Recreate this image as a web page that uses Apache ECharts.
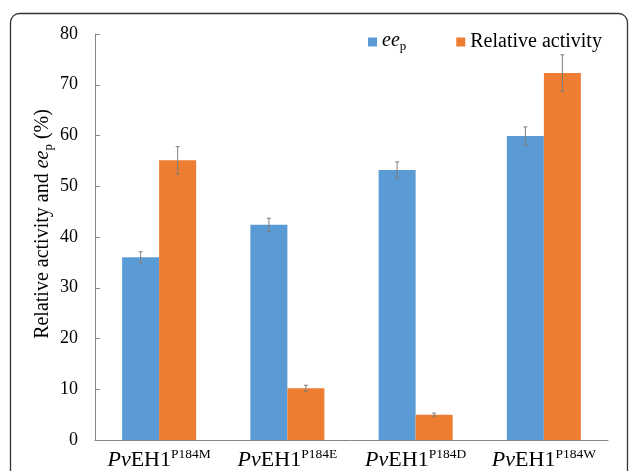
<!DOCTYPE html>
<html><head><meta charset="utf-8">
<script src="https://cdn.jsdelivr.net/npm/echarts@6.0.0/dist/echarts.min.js"></script>
<style>html,body{margin:0;padding:0;background:#fff}#c{width:630px;height:471px}</style>
</head><body><div id="c"></div>
<script>
const categories = ['P184M', 'P184E', 'P184D', 'P184W'];
const eeP = [36.0, 42.4, 53.2, 59.9];
const eePErr = [1.1, 1.3, 1.6, 1.8];
const relActivity = [55.1, 10.2, 5.0, 72.3];
const relActivityErr = [2.7, 0.6, 0.3, 3.6];
const yMin = 0, yMax = 80, yStep = 10;

const FONT = 'Liberation Serif';
const BAR_W = 37;
const BLUE = '#5B9BD5', ORANGE = '#ED7D31', ERR = '#7F7F7F';

function errRender(offset) {
  return function (params, api) {
    const idx = api.value(0);
    const lo = api.coord([idx, api.value(1)]);
    const hi = api.coord([idx, api.value(2)]);
    const cx = lo[0] + offset, cap = 2;
    const st = { stroke: ERR, lineWidth: 1 };
    return { type: 'group', children: [
      { type: 'line', shape: { x1: cx, y1: lo[1], x2: cx, y2: hi[1] }, style: st },
      { type: 'line', shape: { x1: cx - cap, y1: lo[1], x2: cx + cap, y2: lo[1] }, style: st },
      { type: 'line', shape: { x1: cx - cap, y1: hi[1], x2: cx + cap, y2: hi[1] }, style: st }
    ]};
  };
}

const chart = echarts.init(document.getElementById('c'), null, { renderer: 'canvas' });
chart.setOption({
  animation: false,
  backgroundColor: '#fff',
  grid: { left: 95, right: 22, top: 34, bottom: 31, containLabel: false, outerBoundsMode: 'none' },
  legend: {
    left: 363, top: 25, itemWidth: 9, itemHeight: 9, icon: 'rect', itemGap: 50,
    data: ['ee_p', 'Relative activity'],
    formatter: function (n) { return n === 'ee_p' ? '{i|ee}{s|p}' : '{n|Relative activity}'; },
    textStyle: {
      fontFamily: FONT, fontSize: 20, color: '#000',
      rich: {
        i: { fontFamily: FONT, fontSize: 20, fontStyle: 'italic', lineHeight: 22, verticalAlign: 'top', color: '#000' },
        s: { fontFamily: FONT, fontSize: 13, lineHeight: 13, padding: [10, 0, 0, 0], verticalAlign: 'bottom', color: '#000' },
        n: { fontFamily: FONT, fontSize: 20, lineHeight: 22, color: '#000' }
      }
    }
  },
  xAxis: {
    type: 'category', data: categories,
    axisLine: { lineStyle: { color: '#868686', width: 1 } },
    axisTick: { show: false },
    axisLabel: {
      interval: 0, margin: 7, color: '#000',
      formatter: function (v) { return '{a|Pv}{b|EH1}{c|' + v + '}'; },
      rich: {
        a: { fontFamily: FONT, fontSize: 22, fontStyle: 'italic', lineHeight: 24, verticalAlign: 'bottom', color: '#000' },
        b: { fontFamily: FONT, fontSize: 22, lineHeight: 24, verticalAlign: 'bottom', color: '#000' },
        c: { fontFamily: FONT, fontSize: 13.5, lineHeight: 14, padding: [0, 0, 13, 0], verticalAlign: 'top', color: '#000' }
      }
    }
  },
  yAxis: {
    type: 'value', min: yMin, max: yMax, interval: yStep,
    axisLine: { show: true, lineStyle: { color: '#868686', width: 1 } },
    axisTick: { show: true, inside: true, length: 5, lineStyle: { color: '#868686' } },
    splitLine: { show: false },
    axisLabel: { fontFamily: FONT, fontSize: 18, color: '#000', margin: 17 }
  },
  graphic: [
    { type: 'rect', z: -10, shape: { x: 10.5, y: 13.5, width: 617, height: 540, r: 9 },
      style: { fill: 'none', stroke: '#333', lineWidth: 1.3 } },
    { type: 'text', x: 44, y: 224, rotation: Math.PI / 2,
      style: {
        text: '{n|Relative activity and }{i|ee}{s|p}{n| (%)}',
        align: 'center', verticalAlign: 'middle',
        rich: {
          n: { fontFamily: FONT, fontSize: 20, lineHeight: 22, verticalAlign: 'top', fill: '#000' },
          i: { fontFamily: FONT, fontSize: 20, fontStyle: 'italic', lineHeight: 22, verticalAlign: 'top', fill: '#000' },
          s: { fontFamily: FONT, fontSize: 13, lineHeight: 12, padding: [11, 0, 0, 0], verticalAlign: 'bottom', fill: '#000' }
        }
      } }
  ],
  series: [
    { name: 'ee_p', type: 'bar', data: eeP, barWidth: BAR_W, barGap: '0%', itemStyle: { color: BLUE } },
    { name: 'Relative activity', type: 'bar', data: relActivity, barWidth: BAR_W, barGap: '0%', itemStyle: { color: ORANGE } },
    { name: 'ee_p err', type: 'custom', z: 5, renderItem: errRender(-BAR_W / 2),
      data: eeP.map(function (v, i) { return [i, v - eePErr[i], v + eePErr[i]]; }),
      encode: { x: 0, y: [1, 2] } },
    { name: 'Relative activity err', type: 'custom', z: 5, renderItem: errRender(BAR_W / 2),
      data: relActivity.map(function (v, i) { return [i, v - relActivityErr[i], v + relActivityErr[i]]; }),
      encode: { x: 0, y: [1, 2] } }
  ]
});
</script></body></html>
